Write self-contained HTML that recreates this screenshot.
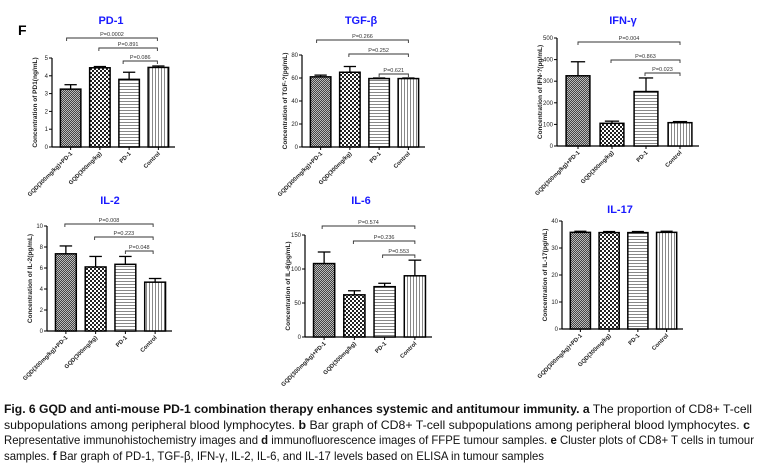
<!DOCTYPE html>
<html><head><meta charset="utf-8"><style>
html,body{margin:0;padding:0;background:#fff;}
svg{display:block;font-family:"Liberation Sans",Arial,sans-serif;}
</style></head><body>
<svg id="fig" width="757" height="466" viewBox="0 0 757 466" xmlns="http://www.w3.org/2000/svg">
<defs>
<pattern id="pat0" width="2" height="2" patternUnits="userSpaceOnUse"><rect width="2" height="2" fill="#444"/><rect width="1" height="1" fill="#bbb"/><rect x="1" y="1" width="1" height="1" fill="#bbb"/></pattern>
<pattern id="pat1" width="4" height="4" patternUnits="userSpaceOnUse"><rect width="4" height="4" fill="#222"/><rect width="2" height="2" fill="#fff"/><rect x="2" y="2" width="2" height="2" fill="#fff"/></pattern>
<pattern id="pat2" width="4" height="3" patternUnits="userSpaceOnUse"><rect width="4" height="3" fill="#fff"/><rect y="2" width="4" height="1" fill="#888"/></pattern>
<pattern id="pat3" width="3" height="4" patternUnits="userSpaceOnUse"><rect width="3" height="4" fill="#fff"/><rect x="2" width="1" height="4" fill="#888"/></pattern>
</defs>
<text x="18" y="35" font-size="14" font-weight="bold">F</text>
<g id="charts"></g>
<g font-size="12" fill="#111">
<text x="4" y="413" textLength="748" lengthAdjust="spacingAndGlyphs"><tspan font-weight="bold">Fig. 6 GQD and anti-mouse PD-1 combination therapy enhances systemic and antitumour immunity. a</tspan> The proportion of CD8+ T-cell</text>
<text x="4" y="429" textLength="746" lengthAdjust="spacingAndGlyphs">subpopulations among peripheral blood lymphocytes. <tspan font-weight="bold">b</tspan> Bar graph of CD8+ T-cell subpopulations among peripheral blood lymphocytes. <tspan font-weight="bold">c</tspan></text>
<text x="4" y="444" textLength="750" lengthAdjust="spacingAndGlyphs">Representative immunohistochemistry images and <tspan font-weight="bold">d</tspan> immunofluorescence images of FFPE tumour samples. <tspan font-weight="bold">e</tspan> Cluster plots of CD8+ T cells in tumour</text>
<text x="4" y="460" textLength="540" lengthAdjust="spacingAndGlyphs">samples. <tspan font-weight="bold">f</tspan> Bar graph of PD-1, TGF-β, IFN-γ, IL-2, IL-6, and IL-17 levels based on ELISA in tumour samples</text>
</g>
</svg>
<script>
const categories = ["GQD(300mg/kg)+PD-1", "GQD(300mg/kg)", "PD-1", "Control"];
const pd1Values = [3.25, 4.45, 3.8, 4.47];
const pd1Errors = [3.5, 4.52, 4.2, 4.55];
const pd1Ticks = [0, 1, 2, 3, 4, 5];
const pd1PLabels = ["P=0.0002", "P=0.891", "P=0.086"];
const tgfValues = [61, 65, 59.5, 59.5];
const tgfErrors = [62.5, 70, 60, 60];
const tgfTicks = [0, 20, 40, 60, 80];
const tgfPLabels = ["P=0.266", "P=0.252", "P=0.621"];
const ifnValues = [325, 105, 252, 108];
const ifnErrors = [390, 115, 315, 113];
const ifnTicks = [0, 100, 200, 300, 400, 500];
const ifnPLabels = ["P=0.004", "P=0.863", "P=0.023"];
const il2Values = [7.35, 6.1, 6.35, 4.65];
const il2Errors = [8.1, 7.1, 7.1, 5.0];
const il2Ticks = [0, 2, 4, 6, 8, 10];
const il2PLabels = ["P=0.008", "P=0.223", "P=0.048"];
const il6Values = [108, 62, 74, 90];
const il6Errors = [125, 68, 79, 113];
const il6Ticks = [0, 50, 100, 150];
const il6PLabels = ["P=0.574", "P=0.236", "P=0.553"];
const il17Values = [35.8, 35.7, 35.7, 35.8];
const il17Errors = [36.2, 36.1, 36.1, 36.2];
const il17Ticks = [0, 10, 20, 30, 40];
const il17PLabels = [];

const NS = "http://www.w3.org/2000/svg";
function mk(tag, attrs, parent) {
  const e = document.createElementNS(NS, tag);
  for (const k in attrs) e.setAttribute(k, attrs[k]);
  parent.appendChild(e);
  return e;
}
const root = document.getElementById("charts");

function chart(name, title, ylab, values, errors, ticks, plabels, L) {
  const g = mk("g", {}, root);
  
  
  const max = ticks[ticks.length - 1];
  const y = v => L.y0 - (v / max) * (L.y0 - L.yTop);
  const step = (L.xEnd - L.ax - 6) / values.length;
  const cx = i => L.ax + 4 + step * (i + 0.5);
  const bw = step * 0.7;
  const t = mk("text", {x: L.tx, y: L.ty, "font-size": 11, "font-weight": "bold", fill: "#1a1aff", "text-anchor": "middle"}, g);
  t.textContent = title;
  
  
  const ya = mk("line", {x1: L.ax, y1: L.yTop, x2: L.ax, y2: L.y0, stroke: "#000", "stroke-width": 1.2}, g);
  
  
  const xa = mk("line", {x1: L.ax, y1: L.y0, x2: L.xEnd, y2: L.y0, stroke: "#000", "stroke-width": 1.2}, g);
  
  
  ticks.forEach(v => {
    mk("line", {x1: L.ax - 3, y1: y(v), x2: L.ax, y2: y(v), stroke: "#000", "stroke-width": 1}, g);
    const tl = mk("text", {x: L.ax - 4, y: y(v) + 2, "font-size": 6, "text-anchor": "end", fill: "#222"}, g);
    tl.textContent = v;
    
    
  });
  const yl = mk("text", {x: 0, y: 0, "font-size": 6.5, "font-weight": "bold", "text-anchor": "middle", fill: "#222",
    transform: `translate(${L.ax - 15},${(L.yTop + L.y0) / 2}) rotate(-90)`}, g);
  yl.textContent = ylab;
  
  
  values.forEach((v, i) => {
    const c = cx(i);
    const ev = errors[i];
    if (ev > v) {
      mk("line", {x1: c, y1: y(v), x2: c, y2: y(ev), stroke: "#000", "stroke-width": 1.3}, g);
      mk("line", {x1: c - bw * 0.3, y1: y(ev), x2: c + bw * 0.3, y2: y(ev), stroke: "#000", "stroke-width": 1.3}, g);
    }
    const b = mk("rect", {x: c - bw / 2, y: y(v), width: bw, height: L.y0 - y(v), fill: `url(#pat${i})`, stroke: "#000", "stroke-width": 1.5}, g);
    
    
    mk("line", {x1: c, y1: L.y0, x2: c, y2: L.y0 + 3, stroke: "#000", "stroke-width": 1}, g);
    const xl = mk("text", {x: 0, y: 0, "font-size": 5.8, "font-weight": "bold", "text-anchor": "end", fill: "#222",
      transform: `translate(${c + 2},${L.y0 + 7}) rotate(-45)`}, g);
    xl.textContent = categories[i];
    
    
  });
  plabels.forEach((p, k) => {
    const x1 = cx(k) + L.bOff[k], x2 = cx(3) + L.bEnd;
    const by = L.bY[k];
    const br = mk("path", {d: `M${x1},${by + 3}V${by}H${x2}V${by + 3}`, fill: "none", stroke: "#333", "stroke-width": 0.9}, g);
    
    
    const pl = mk("text", {x: (x1 + x2) / 2, y: by - 2, "font-size": 5.5, "text-anchor": "middle", fill: "#333"}, g);
    pl.textContent = p;
    
    
  });
}

chart("pd1", "PD-1", "Concentration of PD1(ng/mL)", pd1Values, pd1Errors, pd1Ticks, pd1PLabels,
  {tx: 111, ty: 24, ax: 52, xEnd: 175, yTop: 58, y0: 147, bY: [38, 48, 61], bOff: [-4, -1, -6], bEnd: -1});
chart("tgf", "TGF-β", "Concentration of TGF-?(pg/mL)", tgfValues, tgfErrors, tgfTicks, tgfPLabels,
  {tx: 361, ty: 24, ax: 302, xEnd: 425, yTop: 55, y0: 147, bY: [40, 54, 74], bOff: [-4, -1, 0], bEnd: 0});
chart("ifn", "IFN-γ", "Concentration of IFN-?(pg/mL)", ifnValues, ifnErrors, ifnTicks, ifnPLabels,
  {tx: 623, ty: 24, ax: 557, xEnd: 699, yTop: 38, y0: 146, bY: [42, 60, 73], bOff: [0, -1, -1], bEnd: 0});
chart("il2", "IL-2", "Concentration of IL-2(pg/mL)", il2Values, il2Errors, il2Ticks, il2PLabels,
  {tx: 110, ty: 204, ax: 47, xEnd: 172, yTop: 226, y0: 331, bY: [224, 237, 251], bOff: [-1, -1, 0], bEnd: -2});
chart("il6", "IL-6", "Concentration of IL-6(pg/mL)", il6Values, il6Errors, il6Ticks, il6PLabels,
  {tx: 361, ty: 204, ax: 305, xEnd: 432, yTop: 235, y0: 337, bY: [226, 241, 255], bOff: [-2, -1, -2], bEnd: 0});
chart("il17", "IL-17", "Concentration of IL-17(pg/mL)", il17Values, il17Errors, il17Ticks, il17PLabels,
  {tx: 620, ty: 213, ax: 562, xEnd: 683, yTop: 221, y0: 329, bY: [], bOff: [], bEnd: 0});
</script>
</body></html>
